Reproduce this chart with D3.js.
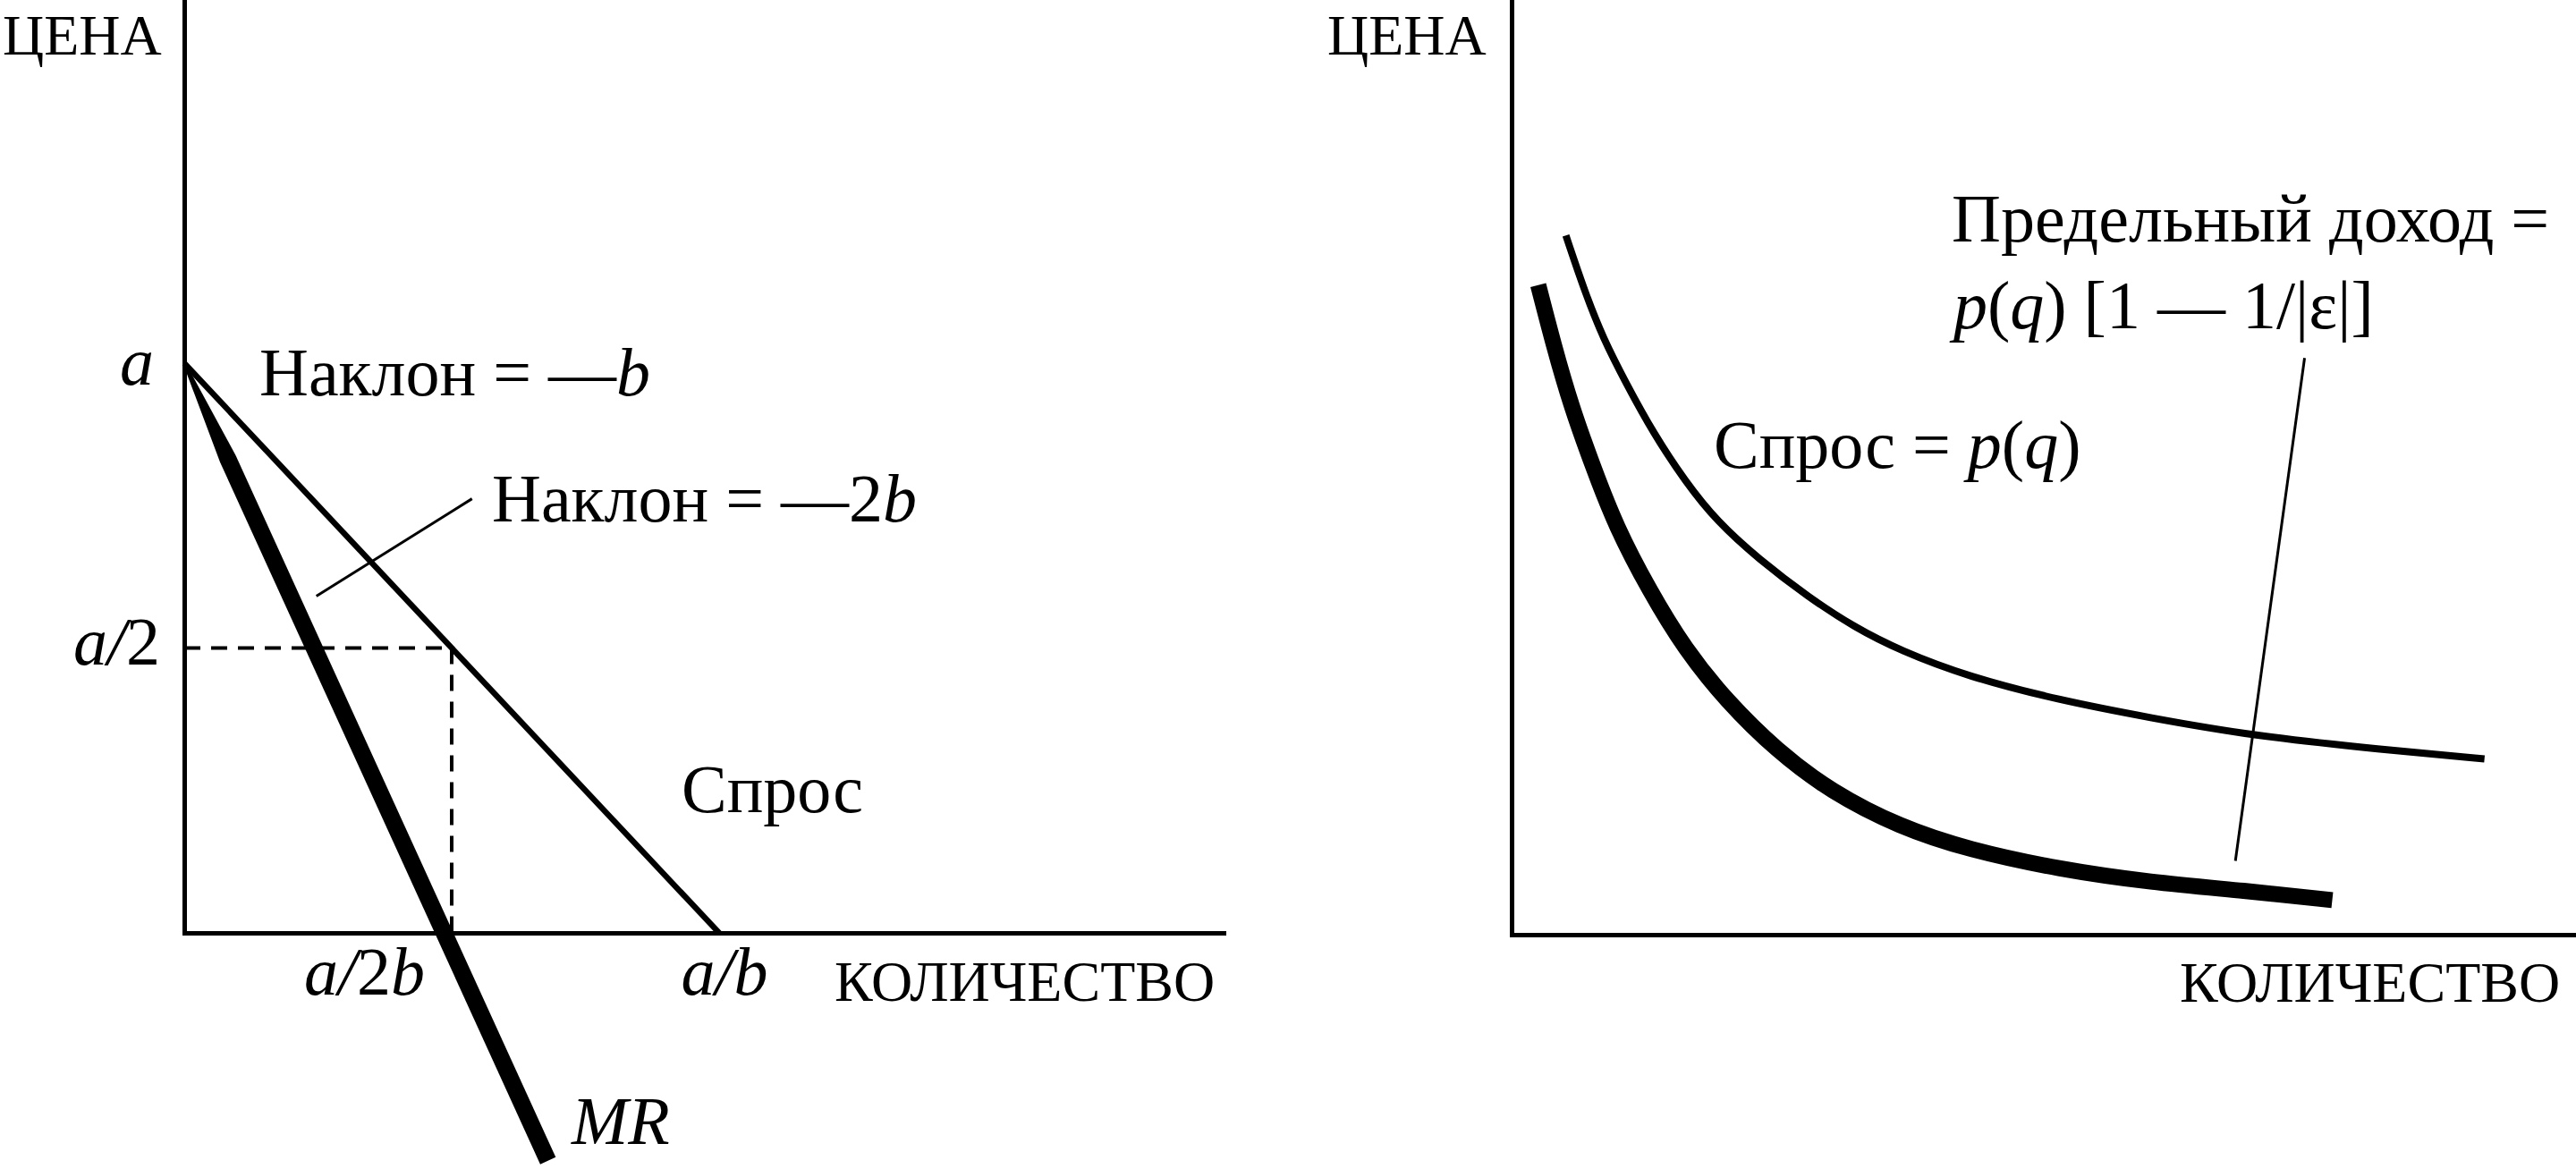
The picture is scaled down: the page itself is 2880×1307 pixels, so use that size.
<!DOCTYPE html>
<html>
<head>
<meta charset="utf-8">
<script src="https://cdn.jsdelivr.net/npm/d3@7"></script>
<style>
html, body { margin: 0; padding: 0; background: #fff; }
svg { display: block; }
text { font-family: "Liberation Serif", "Times New Roman", serif; fill: #000; }
</style>
</head>
<body>
<svg id="chart" width="2880" height="1307"></svg>
<script>
// ---------- DATA ----------
// Left panel: linear demand p = a - b q ; quantity in units of a/b, price in units of a
const linearDemand = [[0, 1], [1, 0]];
const linearMR = [[0, 1], [0.68, -0.40]];
const guideHorizontal = [[0, 0.5], [0.5, 0.5]];
const guideVertical = [[0.5, 0.5], [0.5, 0]];
const slopeLeader = [[0.247, 0.591], [0.538, 0.762]];

// Right panel: curved demand and marginal revenue
const demandQ = [5.1, 6.9, 8.6, 10.8, 13.3, 16.3, 19.3, 23.2, 27.9, 32.2, 36.5, 42.9, 51.4, 60.0, 69.5, 81.8, 91.4];
const demandP = [74.8, 68.7, 63.8, 58.9, 53.7, 48.5, 44.2, 40.2, 36.1, 32.9, 30.4, 27.6, 25.1, 23.2, 21.3, 19.8, 18.8];
const mrQ = [2.5, 3.9, 5.6, 7.8, 9.8, 12.9, 16.3, 20.2, 24.9, 30.0, 36.5, 42.9, 51.4, 60.0, 68.9, 77.1];
const mrP = [69.5, 63.3, 56.5, 49.6, 43.7, 36.9, 30.5, 25.0, 19.7, 15.3, 11.5, 9.1, 7.0, 5.6, 4.7, 3.7];
const mrLeader = [[74.5, 61.7], [68.0, 7.9]];

// Text
const priceTitle = "ЦЕНА";
const quantityTitle = "КОЛИЧЕСТВО";
const priceTickLabels = [[["a", true]], [["a", true], ["/", true], ["2", false]]];
const quantityTickLabels = [[["a", true], ["/", true], ["2", false], ["b", true]], [["a", true], ["/", true], ["b", true]]];
const slopeDemandLabel = [["Наклон = —", false], ["b", true]];
const slopeMRLabel = [["Наклон = —2", false], ["b", true]];
const demandLabel = [["Спрос", false]];
const mrLabel = [["MR", true]];
const mrCurveLabel1 = [["Предельный доход =", false]];
const mrCurveLabel2 = [["p", true], ["(", false], ["q", true], [") [1 — 1/|ε|]", false]];
const demandCurveLabel = [["Спрос = ", false], ["p", true], ["(", false], ["q", true], [")", false]];

// ---------- DRAW ----------
const svg = d3.select("#chart");

function addText(parts, x, y, size, anchor) {
  const t = svg.append("text")
    .attr("x", x).attr("y", y)
    .attr("font-size", size)
    .attr("text-anchor", anchor || "start");
  parts.forEach(p => {
    t.append("tspan").text(p[0]).attr("font-style", p[1] ? "italic" : "normal");
  });
  return t;
}

function styleAxis(g) {
  g.select(".domain").attr("stroke", "#000").attr("stroke-width", 5).attr("stroke-linecap", "square");
  g.selectAll(".tick").remove();
}

// ----- Left panel -----
const xL = d3.scaleLinear().domain([0, 1]).range([206, 804]);
const yL = d3.scaleLinear().domain([0, 1]).range([1043, 406]);

const yLAxisScale = yL.copy().domain([0, yL.invert(0)]).range([yL(0), 0]);
const xLAxisScale = xL.copy().domain([0, xL.invert(1368)]).range([xL(0), 1368]);

svg.append("g").attr("transform", `translate(${xL(0)},0)`)
  .call(d3.axisLeft(yLAxisScale).tickValues([]).tickSizeOuter(0)).call(styleAxis);
svg.append("g").attr("transform", `translate(0,${yL(0)})`)
  .call(d3.axisBottom(xLAxisScale).tickValues([]).tickSizeOuter(0)).call(styleAxis);

const lineL = d3.line().x(d => xL(d[0])).y(d => yL(d[1]));

// dashed guides
[guideHorizontal, guideVertical].forEach(g => {
  svg.append("path").attr("d", lineL(g)).attr("fill", "none")
    .attr("stroke", "#000").attr("stroke-width", 4).attr("stroke-dasharray", "18,12");
});

// demand line
svg.append("path").attr("d", lineL(linearDemand)).attr("fill", "none")
  .attr("stroke", "#000").attr("stroke-width", 6.5);

// MR line (tapered at the intercept)
(function () {
  const p0 = [xL(linearMR[0][0]), yL(linearMR[0][1])];
  const p1 = [xL(linearMR[1][0]), yL(linearMR[1][1])];
  const dx = p1[0] - p0[0], dy = p1[1] - p0[1];
  const len = Math.hypot(dx, dy);
  const nx = -dy / len, ny = dx / len;
  const tm = 0.12;
  const pm = [p0[0] + dx * tm, p0[1] + dy * tm];
  const w0 = 3, w1 = 19;
  const pts = [
    [p0[0] + nx * w0 / 2, p0[1] + ny * w0 / 2],
    [pm[0] + nx * w1 / 2, pm[1] + ny * w1 / 2],
    [p1[0] + nx * w1 / 2, p1[1] + ny * w1 / 2],
    [p1[0] - nx * w1 / 2, p1[1] - ny * w1 / 2],
    [pm[0] - nx * w1 / 2, pm[1] - ny * w1 / 2],
    [p0[0] - nx * w0 / 2, p0[1] - ny * w0 / 2]
  ];
  svg.append("path").attr("d", "M" + pts.map(p => p.join(",")).join("L") + "Z").attr("fill", "#000");
})();

// leader
svg.append("path").attr("d", lineL(slopeLeader)).attr("fill", "none")
  .attr("stroke", "#000").attr("stroke-width", 3);

// left texts
addText([[priceTitle, false]], 3, 61, 64);
addText([[quantityTitle, false]], 933, 1119, 64);
addText(priceTickLabels[0], xL(0) - 34, yL(1) + 24, 76, "end");
addText(priceTickLabels[1], xL(0) - 27, yL(0.5) + 18, 76, "end");
addText(quantityTickLabels[0], xL(0.5) - 30, 1112, 76, "end");
addText(quantityTickLabels[1], xL(1) + 6, 1112, 76, "middle");
addText(slopeDemandLabel, 290, 442, 76);
addText(slopeMRLabel, 550, 583, 76);
addText(demandLabel, 762, 908, 76);
addText(mrLabel, 639, 1279, 76);

// ----- Right panel -----
const xR = d3.scaleLinear().domain([0, 100]).range([1690, 2880]);
const yR = d3.scaleLinear().domain([0, 100]).range([1045, 0]);

svg.append("g").attr("transform", `translate(${xR(0)},0)`)
  .call(d3.axisLeft(yR).tickValues([]).tickSizeOuter(0)).call(styleAxis);
svg.append("g").attr("transform", `translate(0,${yR(0)})`)
  .call(d3.axisBottom(xR).tickValues([]).tickSizeOuter(0)).call(styleAxis);

const curveR = d3.line().x(d => xR(d[0])).y(d => yR(d[1])).curve(d3.curveBasis);
const demandPts = demandQ.map((q, i) => [q, demandP[i]]);
const mrPts = mrQ.map((q, i) => [q, mrP[i]]);

svg.append("path").attr("d", curveR(demandPts)).attr("fill", "none")
  .attr("stroke", "#000").attr("stroke-width", 8);
svg.append("path").attr("d", curveR(mrPts)).attr("fill", "none")
  .attr("stroke", "#000").attr("stroke-width", 18);

svg.append("path").attr("d", d3.line().x(d => xR(d[0])).y(d => yR(d[1]))(mrLeader))
  .attr("fill", "none").attr("stroke", "#000").attr("stroke-width", 3);

addText([[priceTitle, false]], 1484, 61, 64);
addText([[quantityTitle, false]], 2437, 1120, 64);
addText(mrCurveLabel1, 2182, 270, 76);
addText(mrCurveLabel2, 2184, 367, 76);
addText(demandCurveLabel, 1916, 523, 76);
</script>
</body>
</html>
